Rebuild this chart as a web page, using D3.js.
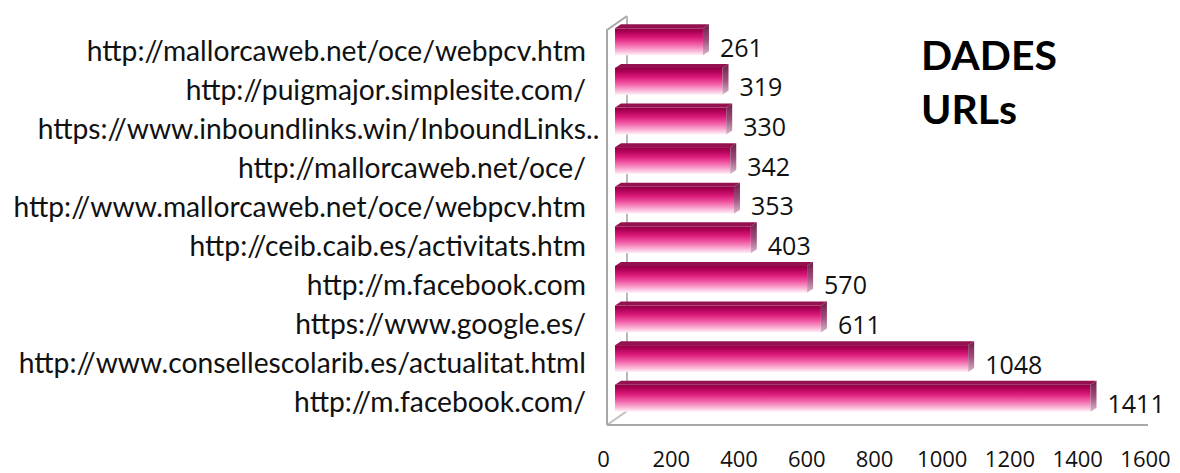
<!DOCTYPE html>
<html>
<head>
<meta charset="utf-8">
<script src="https://d3js.org/d3.v7.min.js"></script>
<style>
body { margin: 0; background: #fff; }
</style>
</head>
<body>
<script>
const categories = [
  "http://mallorcaweb.net/oce/webpcv.htm",
  "http://puigmajor.simplesite.com/",
  "https://www.inboundlinks.win/InboundLinks..",
  "http://mallorcaweb.net/oce/",
  "http://www.mallorcaweb.net/oce/webpcv.htm",
  "http://ceib.caib.es/activitats.htm",
  "http://m.facebook.com",
  "https://www.google.es/",
  "http://www.consellescolarib.es/actualitat.html",
  "http://m.facebook.com/"
];
const visits = [261, 319, 330, 342, 353, 403, 570, 611, 1048, 1411];
const ticks = [0, 200, 400, 600, 800, 1000, 1200, 1400, 1600];
const titleLines = ["DADES", "URLs"];

const width = 1180, height = 473;
const depthX = 20, depthY = -14;   // 3d offset of the wall
const barDx = 6, barDy = -4;       // 3d offset of a bar

const svg = d3.select("body").append("svg")
  .attr("width", width)
  .attr("height", height);

const defs = svg.append("defs");
const front = defs.append("linearGradient").attr("id", "front")
  .attr("x1", 0).attr("y1", 0).attr("x2", 0).attr("y2", 1);
[[0, "#8e0044"], [0.12, "#ab0054"], [0.35, "#dc1a7a"], [0.6, "#f260a8"], [0.85, "#fbb9da"], [1, "#fff2f8"]]
  .forEach(s => front.append("stop").attr("offset", s[0]).attr("stop-color", s[1]));
const side = defs.append("linearGradient").attr("id", "side")
  .attr("x1", 0).attr("y1", 0).attr("x2", 0).attr("y2", 1);
[[0, "#6e1f48"], [0.5, "#9c4d7a"], [1, "#d9b8cc"]]
  .forEach(s => side.append("stop").attr("offset", s[0]).attr("stop-color", s[1]));

// scales
const x = d3.scaleLinear().domain([0, 1600]).range([615, 615 + 0.337 * 1600]);
const xTicks = d3.scaleLinear().domain([0, 1600]).range([603, 1145]);
const y = d3.scaleBand().domain(categories).range([22, 418])
  .paddingInner(0.32).paddingOuter(0.16);
// category labels sit a little lower than the bars at the top
const yLabel = d3.scalePoint().domain(categories).range([61, 412]);

// walls
const wallX = 607, floorY = 425, wallTop = 30;
const wall = svg.append("g").attr("fill", "none").attr("stroke", "#a8a8a8").attr("stroke-width", 2);
wall.append("path").attr("d",
  `M${wallX},${floorY} L${wallX},${wallTop} L${wallX + depthX},${wallTop + depthY}`);
wall.append("path").attr("d",
  `M${wallX + depthX},${wallTop + depthY} L${wallX + depthX},${floorY + depthY}`)
  .attr("stroke", "#b8b8b8");
wall.append("path").attr("d",
  `M${wallX},${floorY} L${wallX + depthX},${floorY + depthY}`).attr("stroke", "#c0c0c0");
wall.append("path").attr("d",
  `M${wallX},${floorY} L${xTicks(1600) + 3},${floorY}`);

// bars
const bars = svg.selectAll("g.bar").data(visits).enter().append("g").attr("class", "bar");
bars.append("rect")
  .attr("x", x(0))
  .attr("y", (d, i) => y(categories[i]))
  .attr("width", d => x(d) - x(0))
  .attr("height", y.bandwidth())
  .attr("fill", "url(#front)");
bars.append("path")
  .attr("d", (d, i) => {
    const x1 = x(d), y0 = y(categories[i]);
    return `M${x(0)},${y0} L${x(0) + barDx},${y0 + barDy} L${x1 + barDx},${y0 + barDy} L${x1},${y0}Z`;
  })
  .attr("fill", "#94104f");
bars.append("path")
  .attr("d", (d, i) => {
    const x1 = x(d), y0 = y(categories[i]), y1 = y0 + y.bandwidth();
    return `M${x1},${y0} L${x1 + barDx},${y0 + barDy} L${x1 + barDx},${y1 + barDy} L${x1},${y1}Z`;
  })
  .attr("fill", "url(#side)");

// value labels
const numFont = "'Open Sans', Lato, sans-serif";
svg.selectAll("text.val").data(visits).enter().append("text")
  .attr("class", "val")
  .attr("x", d => x(d) + barDx + 11)
  .attr("y", (d, i) => y(categories[i]) + y.bandwidth() / 2 + 15)
  .attr("font-family", numFont)
  .attr("font-size", 25)
  .attr("fill", "#111")
  .text(d => d);

// category labels
const catFont = "Lato, 'Noto Sans', sans-serif";
const cats = svg.selectAll("text.cat").data(categories).enter().append("text")
  .attr("class", "cat")
  .attr("text-anchor", "end")
  .attr("font-family", catFont)
  .attr("font-size", 20)
  .attr("fill", "#111")
  .text(d => d);
// fit the longest label to its width in the picture
const longest = d3.max(cats.nodes(), n => n.getComputedTextLength());
const catSize = 20 * 573 / longest;
cats.attr("font-size", catSize);
const dots = svg.append("text").attr("font-family", catFont).attr("font-size", catSize).text("..");
const dotsW = dots.node().getComputedTextLength();
dots.remove();
cats.attr("x", d => 586 + (d.endsWith("..") ? dotsW : 0))
  .attr("y", d => yLabel(d));

// x axis labels
const axis = d3.axisBottom(xTicks).tickValues(ticks).tickFormat(d3.format("d"))
  .tickSize(0).tickPadding(0);
const ax = svg.append("g").attr("transform", "translate(0,451)").call(axis);
ax.select(".domain").remove();
ax.selectAll("text")
  .attr("font-family", numFont)
  .attr("font-size", 22)
  .attr("fill", "#111");

// title
svg.append("text")
  .attr("x", 921)
  .attr("font-family", "Lato, 'Open Sans', sans-serif")
  .attr("font-weight", "bold")
  .attr("font-size", 41)
  .attr("fill", "#000")
  .selectAll("tspan").data(titleLines).enter().append("tspan")
  .attr("x", 921)
  .attr("y", (d, i) => 70 + i * 54)
  .text(d => d);
</script>
</body>
</html>
